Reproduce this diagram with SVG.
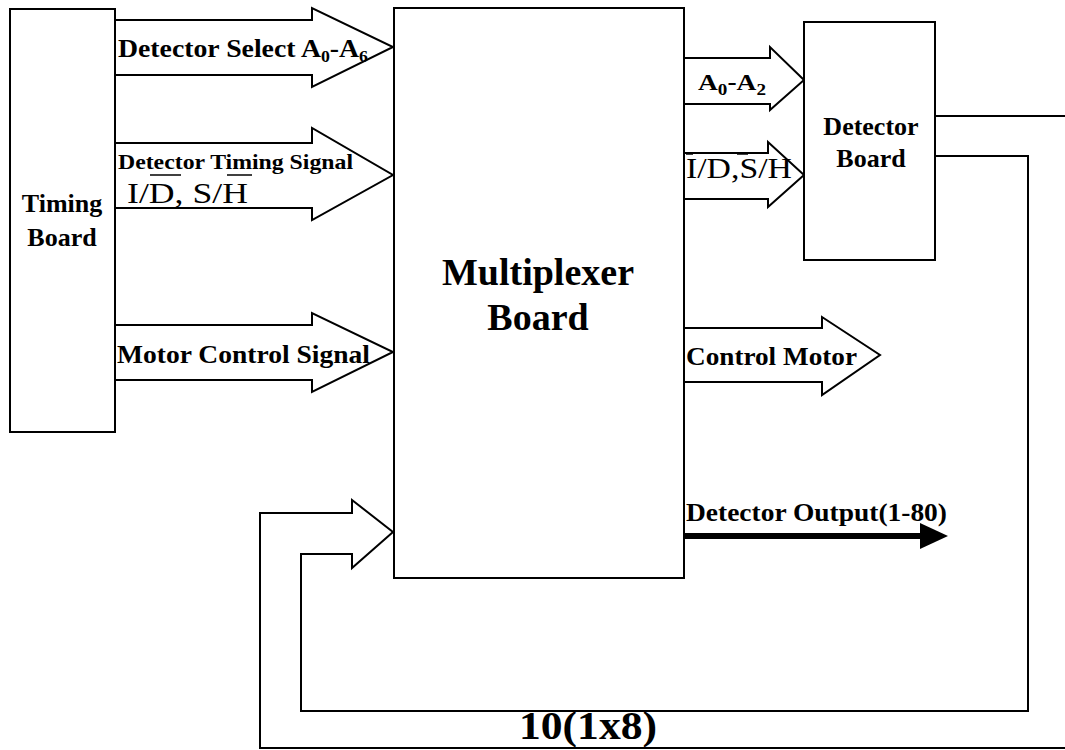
<svg xmlns="http://www.w3.org/2000/svg" width="1065" height="750" viewBox="0 0 1065 750">
<style>
.box{fill:#fff;stroke:#000;stroke-width:2}
.arr{fill:#fff;stroke:#000;stroke-width:2;stroke-linejoin:miter}
.ln{fill:none;stroke:#000;stroke-width:2}
.b{font-family:"Liberation Serif","Times New Roman",serif;font-weight:bold;fill:#000}
.r{font-family:"Liberation Serif","Times New Roman",serif;fill:#000}
.ov{stroke:#000;stroke-width:1.5}
</style>
<rect width="1065" height="750" fill="#fff"/>
<g id="connectors">
<path class="arr" d="M115,20 H312 V8 L393,47 L312,87 V75 H115"/>
<path class="arr" d="M115,143 H312 V128 L393,175 L312,220 V208 H115"/>
<path class="arr" d="M115,325 H312 V313 L393,352 L312,392 V380 H115"/>
<path class="arr" d="M684,58 H770 V47 L804,80 L770,110 V104 H684"/>
<path class="arr" d="M684,153 H768 V142 L804,175 L768,207 V199 H684"/>
<path class="arr" d="M684,328 H822 V317 L880,355 L822,395 V382 H684"/>
<path class="ln" d="M393,532 L352,500 V513 H260 V748 H1065"/>
<path class="ln" d="M393,532 L352,568 V554 H301 V711 H1028 V156 H935"/>
<path class="ln" d="M935,116 H1065"/>
<line x1="684" y1="536" x2="924" y2="536" stroke="#000" stroke-width="6"/>
<polygon points="920,523 948,536 920,549" fill="#000"/>
</g>
<g id="timing-board">
<rect class="box" x="10" y="9" width="105" height="423"/>
<text class="b" x="62" y="212" font-size="26" text-anchor="middle">Timing</text>
<text class="b" x="62" y="246" font-size="26" text-anchor="middle">Board</text>
</g>
<g id="multiplexer-board">
<rect class="box" x="394" y="8" width="290" height="570"/>
<text class="b" x="538" y="285" font-size="38" text-anchor="middle">Multiplexer</text>
<text class="b" x="538" y="330" font-size="38" text-anchor="middle">Board</text>
</g>
<g id="detector-board">
<rect class="box" x="804" y="22" width="131" height="238"/>
<text class="b" x="871" y="135" font-size="26" text-anchor="middle">Detector</text>
<text class="b" x="871" y="167" font-size="26" text-anchor="middle">Board</text>
</g>
<g id="labels">
<text class="b" x="118" y="57" font-size="25" textLength="250" lengthAdjust="spacingAndGlyphs">Detector Select A<tspan font-size="16" dy="5">0</tspan><tspan dy="-5">-A</tspan><tspan font-size="16" dy="5">6</tspan></text>
<text class="b" x="118" y="169" font-size="21" textLength="235" lengthAdjust="spacingAndGlyphs">Detector Timing Signal</text>
<text class="r" x="127" y="203" font-size="30" textLength="121" lengthAdjust="spacingAndGlyphs">I/D, S/H</text>
<line class="ov" x1="150" y1="175" x2="181" y2="175"/>
<line class="ov" x1="227" y1="175" x2="252" y2="175"/>
<text class="b" x="117" y="363" font-size="25" textLength="253" lengthAdjust="spacingAndGlyphs">Motor Control Signal</text>
<text class="b" x="698" y="90" font-size="23" textLength="68" lengthAdjust="spacingAndGlyphs">A<tspan font-size="16" dy="5">0</tspan><tspan dy="-5">-A</tspan><tspan font-size="16" dy="5">2</tspan></text>
<text class="r" x="686" y="178" font-size="29" textLength="106" lengthAdjust="spacingAndGlyphs">I/D,S/H</text>
<line class="ov" x1="686" y1="154" x2="693" y2="154"/>
<line class="ov" x1="737" y1="154" x2="748" y2="154"/>
<text class="b" x="686" y="365" font-size="26" textLength="171" lengthAdjust="spacingAndGlyphs">Control Motor</text>
<text class="b" x="686" y="521" font-size="26" textLength="261" lengthAdjust="spacingAndGlyphs">Detector Output(1-80)</text>
<text class="b" x="519" y="739" font-size="41" textLength="138" lengthAdjust="spacingAndGlyphs">10(1x8)</text>
</g>
</svg>
